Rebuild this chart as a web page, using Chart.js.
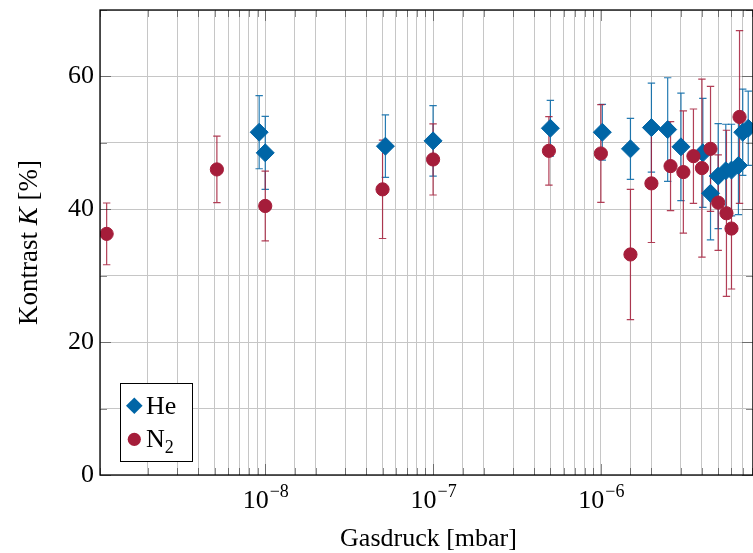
<!doctype html>
<html lang="de">
<head>
<meta charset="utf-8">
<title>Kontrast über Gasdruck</title>
<script src="https://cdn.jsdelivr.net/npm/chart.js"></script>
<style>
  html, body { margin: 0; padding: 0; background: #fff; overflow: hidden; }
  #wrap { position: relative; width: 753px; height: 553px; overflow: hidden; }
</style>
</head>
<body>
<div id="wrap"><canvas id="chart" width="763" height="553"></canvas></div>
<script>
// ---- Daten ----
const heDruck = [9.2e-9, 1.0e-8, 5.2e-8, 1.0e-7, 5.0e-7, 1.02e-6, 1.5e-6, 2.0e-6, 2.5e-6, 3.0e-6, 4.05e-6, 4.5e-6, 5.0e-6, 5.55e-6, 6.0e-6, 6.6e-6, 7.0e-6, 7.55e-6]
const heKontrast = [51.6, 48.5, 49.5, 50.3, 52.2, 51.6, 49.1, 52.3, 52.0, 49.4, 48.5, 42.4, 45.0, 45.8, 45.9, 46.6, 51.6, 52.2]
const heFehler = [5.5, 5.5, 4.7, 5.3, 4.2, 4.2, 4.6, 6.7, 7.8, 8.1, 8.2, 7.0, 7.9, 7.0, 6.9, 7.4, 6.5, 5.6]

const n2Druck = [1.135e-9, 5.15e-9, 1.0e-8, 5.0e-8, 1.0e-7, 4.9e-7, 1.0e-6, 1.5e-6, 2.0e-6, 2.6e-6, 3.1e-6, 3.56e-6, 4.0e-6, 4.5e-6, 5.0e-6, 5.6e-6, 6.0e-6, 6.7e-6]
const n2Kontrast = [36.3, 46.0, 40.5, 43.0, 47.5, 48.8, 48.4, 33.2, 43.9, 46.5, 45.6, 48.0, 46.2, 49.1, 41.0, 39.4, 37.1, 53.9]
const n2Fehler = [4.65, 5.0, 5.25, 7.4, 5.35, 5.15, 7.35, 9.8, 8.9, 6.7, 9.2, 7.1, 13.4, 9.4, 7.2, 12.5, 9.1, 13.0]

const xMin = 1.036e-9
const xMax = 8.06e-6
const yTicksMitText = [0, 20, 40, 60]

const serif = "'Liberation Serif', 'DejaVu Serif', serif"
const blau = '#0065a6'
const rot = '#a51d3a'

function punkte(x, y) {
  return x.map((v, i) => ({ x: v, y: y[i] }))
}

function istDekade(v) {
  const l = Math.log10(v)
  return Math.abs(l - Math.round(l)) < 1e-6
}

// ---- plugins ----
const fehlerbalken = {
  id: 'fehlerbalken',
  beforeDatasetsDraw(chart) {
    const { ctx, chartArea: a, scales: { x, y } } = chart
    ctx.save()
    ctx.beginPath()
    ctx.rect(a.left, a.top, a.width, a.height)
    ctx.clip()
    chart.data.datasets.forEach((ds) => {
      ctx.strokeStyle = ds.fehlerFarbe
      ctx.lineWidth = 1.2
      ds.data.forEach((pt, i) => {
        const px = x.getPixelForValue(pt.x)
        const oben = y.getPixelForValue(pt.y + ds.fehler[i])
        const unten = y.getPixelForValue(pt.y - ds.fehler[i])
        ctx.beginPath()
        ctx.moveTo(px, oben); ctx.lineTo(px, unten)
        ctx.moveTo(px - 3.7, oben); ctx.lineTo(px + 3.7, oben)
        ctx.moveTo(px - 3.7, unten); ctx.lineTo(px + 3.7, unten)
        ctx.stroke()
      })
    })
    ctx.restore()
  }
}

const rahmen = {
  id: 'rahmen',
  afterDraw(chart) {
    const { ctx, chartArea: a, scales: { x, y } } = chart
    ctx.save()
    ctx.strokeStyle = 'rgba(0,0,0,0.45)'
    ctx.lineWidth = 1
    ctx.beginPath()
    x.ticks.forEach((t) => {
      const px = Math.round(x.getPixelForValue(t.value)) + 0.5
      const len = istDekade(t.value) ? 11 : 7
      ctx.moveTo(px, a.bottom); ctx.lineTo(px, a.bottom - len)
      ctx.moveTo(px, a.top); ctx.lineTo(px, a.top + len)
    })
    y.ticks.forEach((t) => {
      const py = Math.round(y.getPixelForValue(t.value)) + 0.5
      const len = yTicksMitText.includes(t.value) ? 11 : 7
      ctx.moveTo(a.left, py); ctx.lineTo(a.left + len, py)
      ctx.moveTo(a.right, py); ctx.lineTo(a.right - len, py)
    })
    ctx.stroke()
    ctx.strokeStyle = '#000'
    ctx.lineWidth = 1.3
    ctx.strokeRect(a.left, a.top, a.width, a.height)
    ctx.restore()
  }
}

const beschriftung = {
  id: 'beschriftung',
  afterDraw(chart) {
    const { ctx, chartArea: a, scales: { x } } = chart
    ctx.save()
    ctx.fillStyle = '#000'
    ctx.textBaseline = 'alphabetic'
    ctx.textAlign = 'left'

    // x tick labels 10^n
    x.ticks.forEach((t) => {
      if (!istDekade(t.value)) return
      const exp = '\u2212' + Math.abs(Math.round(Math.log10(t.value)))
      const px = x.getPixelForValue(t.value)
      ctx.font = '26px ' + serif
      const w10 = ctx.measureText('10').width
      ctx.font = '18px ' + serif
      const wExp = ctx.measureText(exp).width
      const start = px - (w10 + wExp) / 2
      ctx.font = '26px ' + serif
      ctx.fillText('10', start, 508)
      ctx.font = '18px ' + serif
      ctx.fillText(exp, start + w10 + 1, 497)
    })

    // x title
    ctx.font = '26px ' + serif
    ctx.textAlign = 'center'
    ctx.fillText('Gasdruck [mbar]', (a.left + a.right) / 2 + 2, 546)

    // y title with italic K
    const teile = [['Kontrast ', ''], ['K', 'italic '], [' [%]', '']]
    let gesamt = 0
    teile.forEach(([s, stil]) => {
      ctx.font = stil + '27px ' + serif
      gesamt += ctx.measureText(s).width
    })
    ctx.translate(30, (a.top + a.bottom) / 2)
    ctx.rotate(-Math.PI / 2)
    ctx.textAlign = 'left'
    ctx.textBaseline = 'middle'
    let pos = -gesamt / 2
    teile.forEach(([s, stil]) => {
      ctx.font = stil + '27px ' + serif
      ctx.fillText(s, pos, 0)
      pos += ctx.measureText(s).width
    })
    ctx.restore()
  }
}

const legende = {
  id: 'legende',
  afterDraw(chart) {
    const { ctx } = chart
    const bx = 120.5, by = 383.5, bw = 72, bh = 78
    ctx.save()
    ctx.fillStyle = '#fff'
    ctx.fillRect(bx, by, bw, bh)
    ctx.strokeStyle = '#000'
    ctx.lineWidth = 1
    ctx.strokeRect(bx, by, bw, bh)
    chart.data.datasets.forEach((ds, i) => {
      const cx = 134.3
      const cy = 405.7 + i * 33.6
      ctx.fillStyle = ds.backgroundColor
      ctx.beginPath()
      if (ds.pointStyle === 'rectRot') {
        const r = 8.3
        ctx.moveTo(cx - r, cy); ctx.lineTo(cx, cy - r); ctx.lineTo(cx + r, cy); ctx.lineTo(cx, cy + r)
        ctx.closePath()
      } else {
        ctx.arc(cx, cy, 6.6, 0, Math.PI * 2)
      }
      ctx.fill()
      // label, trailing digit as subscript
      ctx.fillStyle = '#000'
      ctx.textBaseline = 'alphabetic'
      ctx.textAlign = 'left'
      const m = ds.legendeText
      ctx.font = '26px ' + serif
      ctx.fillText(m[0], 146, cy + 8)
      if (m[1]) {
        const w = ctx.measureText(m[0]).width
        ctx.font = '18px ' + serif
        ctx.fillText(m[1], 146 + w, cy + 14)
      }
    })
    ctx.restore()
  }
}

new Chart(document.getElementById('chart'), {
  type: 'scatter',
  data: {
    datasets: [
      {
        label: 'He',
        legendeText: ['He', ''],
        data: punkte(heDruck, heKontrast),
        fehler: heFehler,
        fehlerFarbe: 'rgba(0,101,166,0.85)',
        pointStyle: 'rectRot',
        pointRadius: 9,
        pointHoverRadius: 9,
        backgroundColor: blau,
        borderColor: blau,
        borderWidth: 1,
        order: 2
      },
      {
        label: 'N₂',
        legendeText: ['N', '2'],
        data: punkte(n2Druck, n2Kontrast),
        fehler: n2Fehler,
        fehlerFarbe: 'rgba(165,29,58,0.85)',
        pointStyle: 'circle',
        pointRadius: 6.6,
        pointHoverRadius: 6.6,
        backgroundColor: rot,
        borderColor: rot,
        borderWidth: 1,
        order: 1
      }
    ]
  },
  options: {
    responsive: false,
    animation: false,
    layout: { padding: { left: 0, top: 10, right: 0, bottom: 0 } },
    plugins: {
      legend: { display: false },
      tooltip: { enabled: false }
    },
    scales: {
      x: {
        type: 'logarithmic',
        min: xMin,
        max: xMax,
        afterFit(s) {
          s.height = 78
          s.paddingLeft = 0
          s.paddingRight = 0
        },
        ticks: { display: false, autoSkip: false },
        grid: { color: '#c6c6c6', lineWidth: 1, drawTicks: false },
        border: { display: false }
      },
      y: {
        min: 0,
        max: 70,
        afterFit(s) {
          s.width = 100
          s.paddingTop = 0
          s.paddingBottom = 0
        },
        ticks: {
          stepSize: 10,
          callback: (v) => (yTicksMitText.includes(v) ? v : ''),
          font: { family: serif, size: 26 },
          color: '#000',
          padding: 6
        },
        grid: { color: '#c6c6c6', lineWidth: 1, drawTicks: false },
        border: { display: false }
      }
    }
  },
  plugins: [fehlerbalken, rahmen, beschriftung, legende]
})
</script>
</body>
</html>
